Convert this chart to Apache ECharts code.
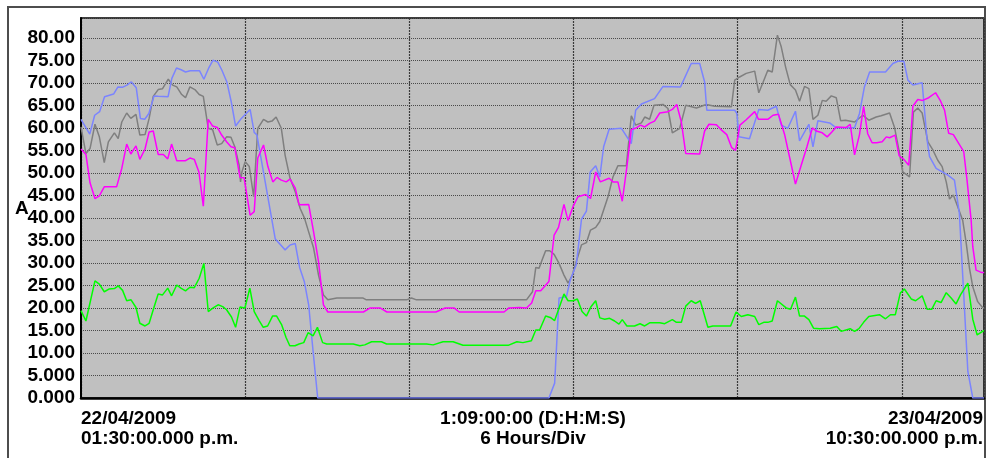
<!DOCTYPE html>
<html lang="en">
<head>
    <meta charset="UTF-8">
    <title>A - 22/04/2009</title>
    <style type="text/css">
        html, body { margin: 0; padding: 0; background: #fff; }
        #currentChart { width: 987px; height: 458px; }
    </style>
</head>
<body>
<div id="currentChart"></div>

<script src="https://cdn.jsdelivr.net/npm/echarts@6.0.0/dist/echarts.min.js"></script>
<script type="text/javascript">
    // x = hours since 22/04/2009 01:30 p.m., y = current (A)
    var blueLine = [[0,61.9],[0.32,58.6],[0.5,62.8],[0.68,63.6],[0.86,66.9],[1.19,67.5],[1.35,69.1],[1.51,69.0],[1.68,69.5],[1.84,70.2],[2.02,68.9],[2.17,62.1],[2.33,61.9],[2.48,63.2],[2.67,67.1],[2.82,67.0],[3.18,66.9],[3.32,71.0],[3.49,73.3],[3.66,72.9],[3.82,72.4],[3.99,72.7],[4.33,72.7],[4.49,70.8],[4.66,73.2],[4.82,75.0],[5.0,74.6],[5.15,72.8],[5.33,70.2],[5.49,65.8],[5.65,60.4],[5.86,62.1],[6.18,64.1],[6.33,59.0],[6.43,58.4],[7.10,35.3],[7.46,32.9],[7.64,34.0],[7.83,34.3],[7.99,29.0],[8.16,25.9],[8.32,20.7],[8.47,11.1],[8.65,0],[17.10,0],[17.31,3.3],[17.47,22.2],[17.74,22.5],[17.88,26.2],[18.10,29.6],[18.29,39.7],[18.47,41.5],[18.61,50.2],[18.81,51.6],[18.96,49.1],[19.10,55.8],[19.30,59.7],[19.75,59.9],[20.11,56.5],[20.27,63.9],[20.48,65.3],[20.96,66.5],[21.27,69.2],[21.91,69.1],[22.30,74.3],[22.61,74.3],[22.79,70.2],[22.87,63.9],[23.89,63.9],[23.97,63.2],[24.04,58.0],[24.43,57.6],[24.77,64.1],[25.10,63.9],[25.41,64.8],[25.59,60.6],[25.83,59.9],[26.11,63.7],[26.26,57.1],[26.60,60.8],[26.75,55.8],[26.93,61.6],[27.36,61.1],[27.60,60.0],[28.27,60.0],[28.45,63.2],[28.63,69.1],[28.82,72.4],[29.40,72.4],[29.67,74.3],[29.85,74.8],[30.07,74.8],[30.22,70.6],[30.40,69.5],[30.74,70.0],[30.92,57.3],[31.01,53.6],[31.25,51.0],[31.68,49.5],[31.92,48.4],[32.10,41.0],[32.41,5.9],[32.59,0],[33,0]];

    var grayLine = [[0,60.2],[0.18,54.3],[0.33,55.4],[0.51,60.8],[0.67,58.0],[0.85,52.3],[1.0,56.9],[1.22,58.9],[1.36,57.6],[1.49,61.3],[1.67,63.3],[1.82,62.1],[2.01,63.0],[2.15,58.4],[2.34,58.5],[2.49,62.1],[2.64,67.0],[2.82,68.5],[2.98,68.7],[3.19,70.8],[3.35,69.5],[3.50,69.1],[3.68,67.4],[3.82,66.7],[3.98,69.1],[4.16,68.5],[4.32,67.4],[4.47,67.0],[4.65,59.9],[4.81,59.6],[4.98,56.2],[5.14,56.5],[5.32,58.0],[5.48,57.9],[5.62,55.8],[5.78,51.7],[5.83,48.0],[5.88,50.2],[6.0,52.5],[6.15,51.4],[6.31,44.7],[6.46,59.9],[6.67,61.9],[6.83,61.3],[6.98,61.5],[7.13,62.4],[7.32,59.9],[7.46,53.9],[7.64,48.8],[7.83,45.8],[8.01,42.1],[8.17,39.9],[8.32,36.9],[8.50,33.3],[8.68,27.3],[8.86,22.9],[9.02,21.8],[9.35,22.2],[10.31,22.2],[10.43,21.8],[11.90,21.8],[12.08,22.2],[12.26,21.8],[16.28,21.8],[16.50,23.6],[16.62,29.0],[16.74,28.8],[16.86,30.8],[16.98,32.7],[17.13,32.7],[17.29,31.9],[17.47,29.9],[17.65,27.3],[17.80,25.5],[17.96,27.3],[18.10,30.3],[18.29,34.0],[18.47,34.5],[18.62,37.3],[18.81,37.9],[18.96,39.2],[19.26,44.7],[19.44,49.1],[19.62,51.6],[19.93,51.6],[20.11,62.7],[20.27,60.6],[20.48,61.1],[20.60,62.4],[20.78,61.9],[20.94,65.0],[21.27,65.2],[21.45,64.3],[21.61,58.9],[21.88,59.9],[22.10,65.0],[22.49,64.4],[22.85,65.2],[23.16,64.8],[23.77,64.7],[23.89,70.6],[24.07,71.3],[24.31,72.1],[24.62,72.6],[24.77,67.8],[24.92,70.0],[25.10,72.8],[25.26,72.4],[25.45,80.6],[25.59,78.0],[25.75,73.5],[25.92,69.6],[26.11,68.4],[26.26,65.9],[26.44,69.2],[26.60,68.7],[26.75,61.9],[26.93,62.8],[27.09,66.1],[27.23,65.9],[27.42,67.1],[27.60,66.7],[27.76,61.6],[27.94,61.7],[28.27,61.3],[28.57,62.8],[28.79,61.7],[29.06,62.4],[29.24,62.7],[29.55,63.3],[29.73,60.1],[29.89,55.1],[30.03,50.2],[30.28,49.1],[30.42,63.5],[30.58,64.4],[30.74,63.3],[30.95,56.9],[31.13,55.1],[31.31,52.8],[31.47,51.4],[31.62,48.0],[31.74,44.2],[31.88,45.1],[32.04,42.5],[32.22,39.5],[32.35,34.4],[32.47,28.8],[32.59,24.7],[32.77,21.4],[32.93,20.2],[33,20.0]];

    var magentaLine = [[0,55.3],[0.18,54.1],[0.33,47.8],[0.51,44.3],[0.67,44.9],[0.85,46.9],[1.30,46.9],[1.49,51.0],[1.67,56.4],[1.82,54.2],[2.01,56.0],[2.15,53.0],[2.34,55.3],[2.49,59.1],[2.64,59.3],[2.82,54.1],[3.01,54.1],[3.17,53.1],[3.31,56.4],[3.50,52.7],[3.82,52.7],[3.98,53.3],[4.14,53.0],[4.31,50.2],[4.47,42.6],[4.65,61.9],[4.81,60.4],[4.98,60.1],[5.14,58.4],[5.32,56.9],[5.48,55.8],[5.62,55.6],[5.81,49.0],[5.96,48.9],[6.18,40.6],[6.33,41.4],[6.46,53.3],[6.67,56.2],[6.83,51.4],[7.01,48.0],[7.16,49.0],[7.32,48.4],[7.50,48.0],[7.64,48.6],[7.83,46.6],[7.97,42.9],[8.32,43.0],[8.50,36.9],[8.68,30.3],[8.86,20.7],[9.02,19.1],[10.32,19.1],[10.57,20.0],[10.93,20.0],[11.18,19.1],[12.97,19.1],[13.31,20.0],[13.63,20.0],[13.82,19.1],[15.46,19.1],[15.64,20.0],[16.01,20.1],[16.28,20.0],[16.47,21.1],[16.62,23.8],[16.80,23.8],[17.10,25.9],[17.29,36.2],[17.45,37.9],[17.65,43.0],[17.80,39.4],[17.98,42.5],[18.16,44.7],[18.44,45.2],[18.62,44.3],[18.81,50.2],[18.98,48.0],[19.30,48.8],[19.44,48.0],[19.62,48.0],[19.78,43.7],[19.95,51.4],[20.11,59.6],[20.26,59.9],[20.45,60.6],[20.60,60.2],[20.78,61.0],[20.96,61.5],[21.15,63.3],[21.45,63.6],[21.61,64.1],[21.77,65.2],[21.94,61.3],[22.10,54.3],[22.61,54.2],[22.79,59.3],[22.95,60.8],[23.22,60.7],[23.41,59.5],[23.60,58.5],[23.78,55.6],[23.92,55.0],[24.08,60.6],[24.31,61.8],[24.62,63.6],[24.76,61.9],[25.10,61.9],[25.29,62.8],[25.49,63.0],[25.71,58.6],[25.92,52.8],[26.11,47.5],[26.32,51.7],[26.53,55.8],[26.73,60.0],[26.87,59.3],[27.09,58.9],[27.27,58.0],[27.44,59.1],[27.60,60.2],[27.97,60.1],[28.11,60.8],[28.27,54.0],[28.45,58.5],[28.60,64.8],[28.75,58.7],[28.91,56.7],[29.08,56.7],[29.28,56.9],[29.43,58.0],[29.55,57.8],[29.75,58.4],[29.90,53.8],[30.07,53.0],[30.25,51.7],[30.40,64.8],[30.58,66.3],[30.76,66.1],[30.98,66.7],[31.23,67.8],[31.40,66.1],[31.56,63.9],[31.71,58.8],[31.88,58.5],[32.08,56.5],[32.26,54.7],[32.38,48.4],[32.53,39.5],[32.59,33.6],[32.71,28.4],[32.90,27.9],[33,27.9]];

    var greenLine = [[0,19.4],[0.18,17.1],[0.51,26.0],[0.67,25.3],[0.85,23.6],[1.02,24.2],[1.22,24.3],[1.36,24.9],[1.52,23.9],[1.67,21.6],[1.83,21.8],[2.01,20.1],[2.15,16.6],[2.34,16.0],[2.49,16.6],[2.64,19.6],[2.82,23.1],[2.98,22.9],[3.17,24.4],[3.31,22.7],[3.50,25.1],[3.65,24.4],[3.82,23.8],[3.98,24.6],[4.14,24.5],[4.32,26.6],[4.49,29.9],[4.65,19.2],[4.83,20.0],[5.01,20.7],[5.18,20.3],[5.32,19.6],[5.50,18.0],[5.65,15.7],[5.81,20.2],[5.99,20.0],[6.17,24.4],[6.33,19.2],[6.51,17.2],[6.66,15.7],[6.82,16.0],[7.00,18.2],[7.15,18.2],[7.33,16.3],[7.49,13.5],[7.63,11.6],[7.82,11.6],[7.97,12.0],[8.14,12.3],[8.30,14.5],[8.48,13.8],[8.64,15.7],[8.83,12.3],[8.98,12.0],[9.95,12.0],[10.19,11.6],[10.37,11.8],[10.62,12.5],[10.98,12.5],[11.17,12.0],[12.63,12.0],[12.87,11.8],[13.23,12.5],[13.60,12.5],[13.96,11.7],[15.61,11.7],[15.93,12.5],[16.15,12.3],[16.46,12.7],[16.62,15.1],[16.76,15.1],[16.98,18.2],[17.15,17.9],[17.31,17.2],[17.49,20.3],[17.65,23.1],[17.80,21.6],[17.98,21.6],[18.14,22.0],[18.31,19.2],[18.47,18.2],[18.63,20.2],[18.81,21.6],[18.96,17.8],[19.14,17.5],[19.32,17.7],[19.50,17.1],[19.66,16.4],[19.78,17.4],[19.95,16.0],[20.23,16.0],[20.43,16.5],[20.60,16.0],[20.78,16.7],[21.15,16.7],[21.33,16.5],[21.61,17.4],[21.76,16.8],[21.94,16.8],[22.10,20.4],[22.30,21.6],[22.46,21.0],[22.63,21.6],[22.91,15.7],[23.09,16.0],[23.74,16.0],[23.94,19.1],[24.13,18.1],[24.37,18.5],[24.62,18.1],[24.77,16.3],[24.95,16.8],[25.10,16.8],[25.26,17.1],[25.45,21.6],[25.77,20.0],[25.93,19.7],[26.11,22.4],[26.26,18.2],[26.44,18.2],[26.60,17.4],[26.77,15.5],[26.99,15.4],[27.38,15.5],[27.62,15.9],[27.78,14.8],[28.11,15.4],[28.27,14.8],[28.43,15.4],[28.60,16.8],[28.79,18.1],[29.18,18.5],[29.40,17.6],[29.58,18.5],[29.76,18.5],[29.94,23.3],[30.09,24.2],[30.34,22.0],[30.50,21.6],[30.74,22.7],[30.92,19.7],[31.09,19.7],[31.25,21.6],[31.43,21.2],[31.62,23.4],[31.80,22.2],[31.98,20.9],[32.14,22.9],[32.41,25.5],[32.59,17.5],[32.75,14.0],[32.95,14.8],[33,15.0]];

    var startLabel = ['22/04/2009', '01:30:00.000 p.m.'];
    var spanLabel = ['1:09:00:00 (D:H:M:S)', '6 Hours/Div'];
    var endLabel = ['23/04/2009', '10:30:00.000 p.m.'];
    var yUnit = 'A';
    var spanHours = 33, hoursPerDiv = 6;
    var yMin = 0, yMax = 84.4, yStep = 5;

    var boldFont = 'bold 19px "Liberation Sans", Arial, sans-serif';

    var currentChart = echarts.init(document.getElementById('currentChart'), null, {renderer: 'canvas'});

    // 折线公共样式
    function makeLine(data, color, z) {
        return {
            type: 'line',
            data: data,
            showSymbol: false,
            symbol: 'none',
            z: z,
            lineStyle: { color: color, width: 1.5 },
            animation: false
        };
    }

    function textItem(str, x, y, align) {
        return {
            type: 'text',
            x: x,
            y: y,
            style: {
                text: str,
                font: boldFont,
                fill: '#000',
                align: align,
                verticalAlign: 'middle'
            },
            z: 10
        };
    }

    var option = {
        backgroundColor: '#fff',
        animation: false,
        grid: {
            left: 81,
            right: 3,
            top: 18,
            bottom: 60,
            show: true,
            backgroundColor: '#c0c0c0',
            borderColor: '#000',
            borderWidth: 1.5
        },
        xAxis: {
            type: 'value',
            min: 0,
            max: spanHours,
            interval: hoursPerDiv,
            axisLabel: { show: false },
            axisTick: { show: false },
            axisLine: { show: true, onZero: false, lineStyle: { color: '#000', width: 2.5 } },
            splitLine: { show: true, lineStyle: { color: '#3a3a3a', width: 1.2, type: [2, 1] } }
        },
        yAxis: {
            type: 'value',
            min: yMin,
            max: yMax,
            interval: yStep,
            axisTick: { show: false },
            axisLine: { show: true, lineStyle: { color: '#000', width: 2 } },
            axisLabel: {
                margin: 6,
                color: '#000',
                fontSize: 19,
                fontWeight: 'bold',
                fontFamily: '"Liberation Sans", Arial, sans-serif',
                formatter: function (v) {
                    if (Math.abs(v % yStep) > 0.001) return '';
                    return v < 10 ? v.toFixed(3) : v.toFixed(2);
                }
            },
            splitLine: { show: true, lineStyle: { color: '#4a4a4a', width: 1, type: [1, 1] } }
        },
        series: [
            makeLine(grayLine, '#7f7f7f', 2),
            makeLine(blueLine, '#7b84ff', 3),
            makeLine(magentaLine, '#ff00ff', 4),
            makeLine(greenLine, '#00ff00', 5)
        ],
        graphic: [
            {
                type: 'rect',
                shape: { x: 8, y: 7, width: 977, height: 470 },
                style: { fill: 'none', stroke: '#4d4d4d', lineWidth: 2 },
                z: 0, silent: true
            },
            textItem(yUnit, 15, 209, 'left'),
            textItem(startLabel[0], 81, 419, 'left'),
            textItem(startLabel[1], 81, 439, 'left'),
            textItem(spanLabel[0], 533, 419, 'center'),
            textItem(spanLabel[1], 533, 439, 'center'),
            textItem(endLabel[0], 983, 419, 'right'),
            textItem(endLabel[1], 983, 439, 'right')
        ]
    };

    currentChart.setOption(option);
</script>
</body>
</html>
